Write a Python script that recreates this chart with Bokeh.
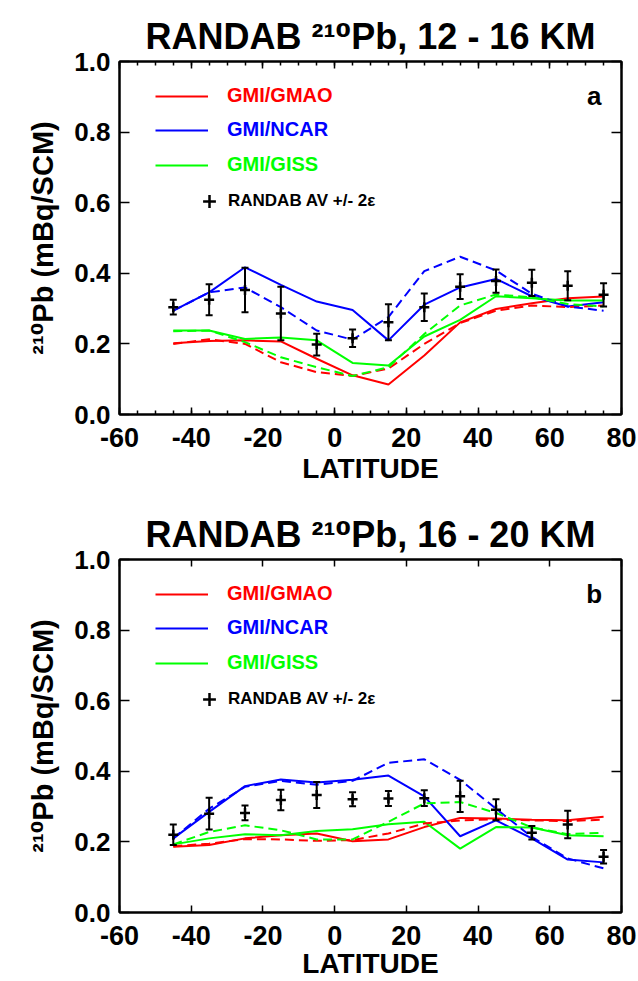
from bokeh.plotting import figure
from bokeh.models import Label, Legend, LegendItem, LinearAxis, FixedTicker, Range1d, ColumnDataSource
from bokeh.layouts import column
from bokeh.embed import file_html
from bokeh.resources import INLINE

# ---------------- data ----------------
lat = [-45, -35, -25, -15, -5, 5, 15, 25, 35, 45, 55, 65, 75]

a_gmao   = [0.202, 0.208, 0.210, 0.207, 0.158, 0.111, 0.085, 0.167, 0.261, 0.299, 0.315, 0.329, 0.334]
a_gmao_d = [0.200, 0.213, 0.200, 0.148, 0.120, 0.109, 0.130, 0.200, 0.259, 0.294, 0.309, 0.304, 0.309]
a_ncar   = [0.294, 0.346, 0.417, 0.367, 0.320, 0.296, 0.210, 0.311, 0.360, 0.384, 0.335, 0.306, 0.318]
a_ncar_d = [0.294, 0.346, 0.360, 0.304, 0.238, 0.212, 0.276, 0.406, 0.447, 0.408, 0.342, 0.306, 0.294]
a_giss   = [0.238, 0.238, 0.214, 0.218, 0.210, 0.146, 0.139, 0.221, 0.268, 0.335, 0.329, 0.323, 0.323]
a_giss_d = [0.236, 0.238, 0.205, 0.162, 0.134, 0.109, 0.134, 0.228, 0.309, 0.340, 0.332, 0.313, 0.306]
a_obs    = [0.304, 0.325, 0.353, 0.286, 0.198, 0.216, 0.261, 0.304, 0.362, 0.378, 0.373, 0.365, 0.339]
a_err    = [0.021, 0.044, 0.063, 0.076, 0.031, 0.025, 0.051, 0.039, 0.035, 0.033, 0.037, 0.041, 0.033]

b_gmao   = [0.186, 0.191, 0.210, 0.219, 0.224, 0.202, 0.207, 0.242, 0.268, 0.266, 0.263, 0.261, 0.271]
b_gmao_d = [0.188, 0.195, 0.208, 0.207, 0.203, 0.205, 0.224, 0.252, 0.261, 0.264, 0.261, 0.259, 0.263]
b_ncar   = [0.210, 0.285, 0.358, 0.377, 0.368, 0.376, 0.388, 0.329, 0.216, 0.261, 0.210, 0.150, 0.142]
b_ncar_d = [0.210, 0.294, 0.356, 0.373, 0.362, 0.373, 0.424, 0.434, 0.376, 0.294, 0.214, 0.153, 0.125]
b_giss   = [0.193, 0.210, 0.222, 0.219, 0.231, 0.236, 0.250, 0.257, 0.181, 0.242, 0.241, 0.219, 0.216]
b_giss_d = [0.193, 0.228, 0.247, 0.233, 0.207, 0.207, 0.257, 0.309, 0.313, 0.282, 0.241, 0.222, 0.226]
b_obs    = [0.220, 0.280, 0.282, 0.319, 0.333, 0.321, 0.323, 0.324, 0.329, 0.291, 0.226, 0.249, 0.158]
b_err    = [0.029, 0.045, 0.021, 0.029, 0.037, 0.020, 0.021, 0.022, 0.044, 0.030, 0.019, 0.039, 0.019]

x_ticks = [-60, -40, -20, 0, 20, 40, 60, 80]
x_tick_labels = ["-60", "-40", "-20", "0", "20", "40", "60", "80"]
y_ticks = [0.0, 0.2, 0.4, 0.6, 0.8, 1.0]
y_tick_labels = ["0.0", "0.2", "0.4", "0.6", "0.8", "1.0"]

series_names = ["GMI/GMAO", "GMI/NCAR", "GMI/GISS"]
series_colors = ["#ff0000", "#0000ff", "#00ff00"]
obs_name = "RANDAB AV +/- 2\u03b5"
y_title = "\u00b2\u00b9\u2070Pb (mBq/SCM)"
x_title = "LATITUDE"

FONT = "Liberation Sans, DejaVu Sans"

# frame geometry (figure pixels; page has no margin)
FW, L, W, T, H = 638, 119, 502, 61, 353


def make_panel(height, off, title, letter, solid, dashed, obs, err, minor, xlab_standoff):
    bottom = height - T - H
    p = figure(width=FW, height=height, output_backend="svg", toolbar_location=None,
               x_range=Range1d(-60, 80), y_range=Range1d(0, 1),
               min_border_left=L, min_border_right=FW - L - W,
               min_border_top=T, min_border_bottom=bottom)
    p.background_fill_color = "white"
    p.border_fill_color = "white"
    p.outline_line_color = "black"
    p.outline_line_width = 2
    p.xgrid.visible = False
    p.ygrid.visible = False

    p.title.text = title
    p.title.align = "center"
    p.title.text_font = FONT
    p.title.text_font_style = "bold"
    p.title.text_font_size = "36px"
    p.title.text_color = "black"
    p.title.standoff = 9

    def dx(px):
        return -60 + (px - L) * 140.0 / W

    def dy(py):
        return 1 - (py - off - T) / float(H)

    xt = FixedTicker(ticks=x_ticks, minor_ticks=(list(range(-60, 81, 5)) if minor else []))
    yt = FixedTicker(ticks=y_ticks, minor_ticks=[])
    xover = {t: s for t, s in zip(x_ticks, x_tick_labels)}
    yover = {t: s for t, s in zip(y_ticks, y_tick_labels)}

    for ax in p.xaxis:
        ax.ticker = xt
        ax.major_label_overrides = xover
        ax.major_label_text_font = FONT
        ax.major_label_text_font_style = "bold"
        ax.major_label_text_font_size = "27px"
        ax.major_label_text_color = "black"
        ax.major_label_standoff = 13
        ax.major_tick_in = 7
        ax.major_tick_out = 0
        ax.minor_tick_in = 4
        ax.minor_tick_out = 0
        ax.axis_line_width = 2
        ax.major_tick_line_width = 1.5
        ax.minor_tick_line_width = 1.5
        ax.axis_label = x_title
        ax.axis_label_text_font = FONT
        ax.axis_label_text_font_style = "bold"
        ax.axis_label_text_font_size = "28px"
        ax.axis_label_text_color = "black"
        ax.axis_label_standoff = xlab_standoff
    for ax in p.yaxis:
        ax.ticker = yt
        ax.major_label_overrides = yover
        ax.major_label_text_font = FONT
        ax.major_label_text_font_style = "bold"
        ax.major_label_text_font_size = "26px"
        ax.major_label_text_color = "black"
        ax.major_label_standoff = 9
        ax.major_tick_in = 10
        ax.major_tick_out = 0
        ax.minor_tick_in = 0
        ax.minor_tick_out = 0
        ax.axis_line_width = 2
        ax.major_tick_line_width = 1.5
        ax.axis_label = y_title
        ax.axis_label_text_font = FONT
        ax.axis_label_text_font_style = "bold"
        ax.axis_label_text_font_size = "29px"
        ax.axis_label_text_color = "black"
        ax.axis_label_standoff = 12

    top = LinearAxis(ticker=xt, major_label_overrides={t: "" for t in x_ticks},
                     major_tick_in=7, major_tick_out=0, minor_tick_in=4, minor_tick_out=0,
                     major_label_standoff=0, axis_line_width=2,
                     major_tick_line_width=1.5, minor_tick_line_width=1.5)
    right = LinearAxis(ticker=yt, major_label_overrides={t: "" for t in y_ticks},
                       major_tick_in=10, major_tick_out=0, minor_tick_in=0, minor_tick_out=0,
                       major_label_standoff=0, axis_line_width=2, major_tick_line_width=1.5)
    p.add_layout(top, "above")
    p.add_layout(right, "right")

    # model lines
    renderers = []
    for vals, c in zip(solid, series_colors):
        r = p.line(lat, vals, line_color=c, line_width=2)
        renderers.append(r)
    for vals, c in zip(dashed, series_colors):
        p.line(lat, vals, line_color=c, line_width=2, line_dash="9 5")

    # observations with +/- 2 sigma
    lo = [o - e for o, e in zip(obs, err)]
    hi = [o + e for o, e in zip(obs, err)]
    src = ColumnDataSource(dict(x=lat, y=obs, lo=lo, hi=hi))
    p.segment(x0="x", y0="lo", x1="x", y1="hi", source=src, line_color="black", line_width=2)
    p.scatter(x="x", y="lo", source=src, marker="dash", size=7, line_color="black", line_width=2)
    p.scatter(x="x", y="hi", source=src, marker="dash", size=7, line_color="black", line_width=2)
    obs_r = p.scatter(x="x", y="y", source=src, marker="cross", size=10, line_color="black", line_width=2.5)

    # legends (one per item to allow coloured labels)
    lx = 36
    for k, (name, c, r) in enumerate(zip(series_names, series_colors, renderers)):
        lg = Legend(items=[LegendItem(label=name, renderers=[r])],
                    location=(lx, [307, 273, 238][k]), glyph_width=53, glyph_height=20,
                    label_height=20, label_standoff=19, padding=0, margin=0, spacing=0,
                    border_line_alpha=0, background_fill_alpha=0,
                    label_text_font=FONT, label_text_font_style="bold",
                    label_text_font_size="20px", label_text_color=c,
                    label_text_baseline="middle")
        p.add_layout(lg, "center")
    lg = Legend(items=[LegendItem(label=obs_name, renderers=[obs_r])],
                location=(74, 197), glyph_width=32, glyph_height=32,
                label_height=32, label_standoff=3, padding=0, margin=0, spacing=0,
                border_line_alpha=0, background_fill_alpha=0,
                label_text_font=FONT, label_text_font_style="bold",
                label_text_font_size="17px", label_text_color="black",
                label_text_baseline="middle")
    p.add_layout(lg, "center")

    # panel letter
    p.add_layout(Label(x=dx(593.7), y=dy(95 + off), text=letter, text_align="center",
                       text_baseline="alphabetic", text_font=FONT, text_font_style="bold",
                       text_font_size="26px", text_color="black"))
    return p


p1 = make_panel(498, 0, "RANDAB \u00b2\u00b9\u2070Pb, 12 - 16 KM", "a",
                [a_gmao, a_ncar, a_giss], [a_gmao_d, a_ncar_d, a_giss_d], a_obs, a_err, True, 3)
p2 = make_panel(483, 498, "RANDAB \u00b2\u00b9\u2070Pb, 16 - 20 KM", "b",
                [b_gmao, b_ncar, b_giss], [b_gmao_d, b_ncar_d, b_giss_d], b_obs, b_err, False, 0)

layout = column(p1, p2, spacing=0)
open("out.html", "w").write(file_html(layout, INLINE))
